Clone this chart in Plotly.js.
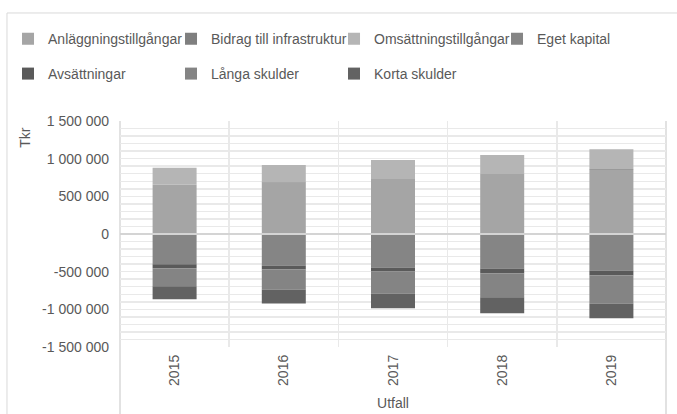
<!DOCTYPE html>
<html>
<head>
<meta charset="utf-8">
<script src="https://cdn.plot.ly/plotly-3.0.1.min.js"></script>
<style>
  html, body { margin: 0; padding: 0; background: #ffffff; }
  #chart { width: 677px; height: 414px; }
</style>
</head>
<body>
<div id="chart"></div>
<script>
// ---- Data (Tkr) ----
const years = ['2015', '2016', '2017', '2018', '2019'];
const anlaggningstillgangar = [654000, 682000, 731000, 797000, 853000];
const bidragInfrastruktur = [0, 8000, 0, 0, 9000];
const omsattningstillgangar = [224000, 225000, 251000, 251000, 264000];
const egetKapital = [-403000, -419000, -445000, -458000, -485000];
const avsattningar = [-53000, -53000, -53000, -66000, -66000];
const langaSkulder = [-238000, -264000, -291000, -317000, -370000];
const kortaSkulder = [-172000, -185000, -198000, -211000, -198000];

const yTickVals = [-1500000, -1000000, -500000, 0, 500000, 1000000, 1500000];
const yTickText = ['-1 500 000', '-1 000 000', '-500 000', '0', '500 000', '1 000 000', '1 500 000'];

const textColor = '#595959';
const gridColor = '#E9E9E9';
const fontFamily = '"Liberation Sans", Arial, sans-serif';

function bar(name, values, color, legendId) {
  return {
    type: 'bar', name: name, x: years, y: values,
    marker: { color: color, line: { width: 0 } },
    legend: legendId, hoverinfo: 'skip'
  };
}

const traces = [
  bar('Anläggningstillgångar', anlaggningstillgangar, '#A5A5A5', 'legend'),
  bar('Bidrag till infrastruktur', bidragInfrastruktur, '#7F7F7F', 'legend'),
  bar('Omsättningstillgångar', omsattningstillgangar, '#B5B5B5', 'legend'),
  bar('Eget kapital', egetKapital, '#858585', 'legend'),
  bar('Avsättningar', avsattningar, '#5A5A5A', 'legend2'),
  bar('Långa skulder', langaSkulder, '#848484', 'legend2'),
  bar('Korta skulder', kortaSkulder, '#626262', 'legend2')
];

const legendCommon = {
  orientation: 'h', xref: 'paper', yref: 'paper',
  xanchor: 'left', yanchor: 'middle',
  entrywidth: 118, entrywidthmode: 'pixels',
  traceorder: 'normal',
  font: { family: fontFamily, size: 14, color: textColor },
  bgcolor: 'rgba(0,0,0,0)', borderwidth: 0
};

const layout = {
  width: 677, height: 414,
  paper_bgcolor: '#ffffff', plot_bgcolor: '#ffffff',
  margin: { l: 120, r: 11, t: 120.5, b: 66.5, autoexpand: false },
  font: { family: fontFamily, size: 14, color: textColor },
  barmode: 'relative',
  bargap: 0.597,
  showlegend: true,
  legend: Object.assign({}, legendCommon, { x: -0.2051, y: 1.362 }),
  legend2: Object.assign({}, legendCommon, { x: -0.2051, y: 1.208 }),
  xaxis: {
    type: 'category',
    tickson: 'boundaries',
    showgrid: true, gridcolor: gridColor, gridwidth: 1.5,
    ticks: '', tickangle: -90,
    ticklabelstandoff: 4,
    tickfont: { family: fontFamily, size: 14, color: textColor },
    showline: false, zeroline: false,
    title: { text: 'Utfall', standoff: 13, font: { family: fontFamily, size: 14, color: textColor } },
    fixedrange: true
  },
  xaxis2: {
    overlaying: 'x', anchor: 'y', type: 'linear',
    range: [-0.5, years.length - 0.5],
    tickmode: 'linear', tick0: 0, dtick: 1,
    showgrid: true, gridcolor: gridColor, gridwidth: 1.5,
    showticklabels: false, ticks: '', showline: false, zeroline: false,
    fixedrange: true
  },
  yaxis: {
    range: [-1500000, 1500000],
    tickmode: 'array', tickvals: yTickVals, ticktext: yTickText,
    showgrid: true, gridcolor: gridColor, gridwidth: 1.5,
    minor: { dtick: 100000, showgrid: true, gridcolor: gridColor, gridwidth: 1.5, ticks: '' },
    zeroline: true, zerolinecolor: '#D4D4D4', zerolinewidth: 1.5,
    zerolinelayer: 'above traces',
    ticks: '', ticklabelstandoff: 10,
    tickfont: { family: fontFamily, size: 14, color: textColor },
    showline: false,
    fixedrange: true
  },
  annotations: [
    {
      text: 'Tkr', textangle: -90,
      xref: 'paper', yref: 'paper', x: -0.1735, y: 0.927,
      xanchor: 'center', yanchor: 'middle', showarrow: false,
      font: { family: fontFamily, size: 14, color: textColor }
    }
  ],
  shapes: [
    { type: 'rect', xref: 'paper', yref: 'paper', x0: -0.207, x1: 1.1, y0: -0.5, y1: 1.478,
      line: { color: '#D9D9D9', width: 1 }, fillcolor: 'rgba(0,0,0,0)', layer: 'below' },
    { type: 'line', xref: 'paper', yref: 'paper', x0: 0, x1: 0, y0: -0.32, y1: 1,
      line: { color: '#D9D9D9', width: 1.5 }, layer: 'below' },
    { type: 'line', xref: 'paper', yref: 'paper', x0: 1, x1: 1, y0: -0.32, y1: 1,
      line: { color: '#D9D9D9', width: 1.5 }, layer: 'below' }
  ]
};

Plotly.newPlot('chart', traces, layout, { displayModeBar: false, staticPlot: true });
</script>
</body>
</html>
